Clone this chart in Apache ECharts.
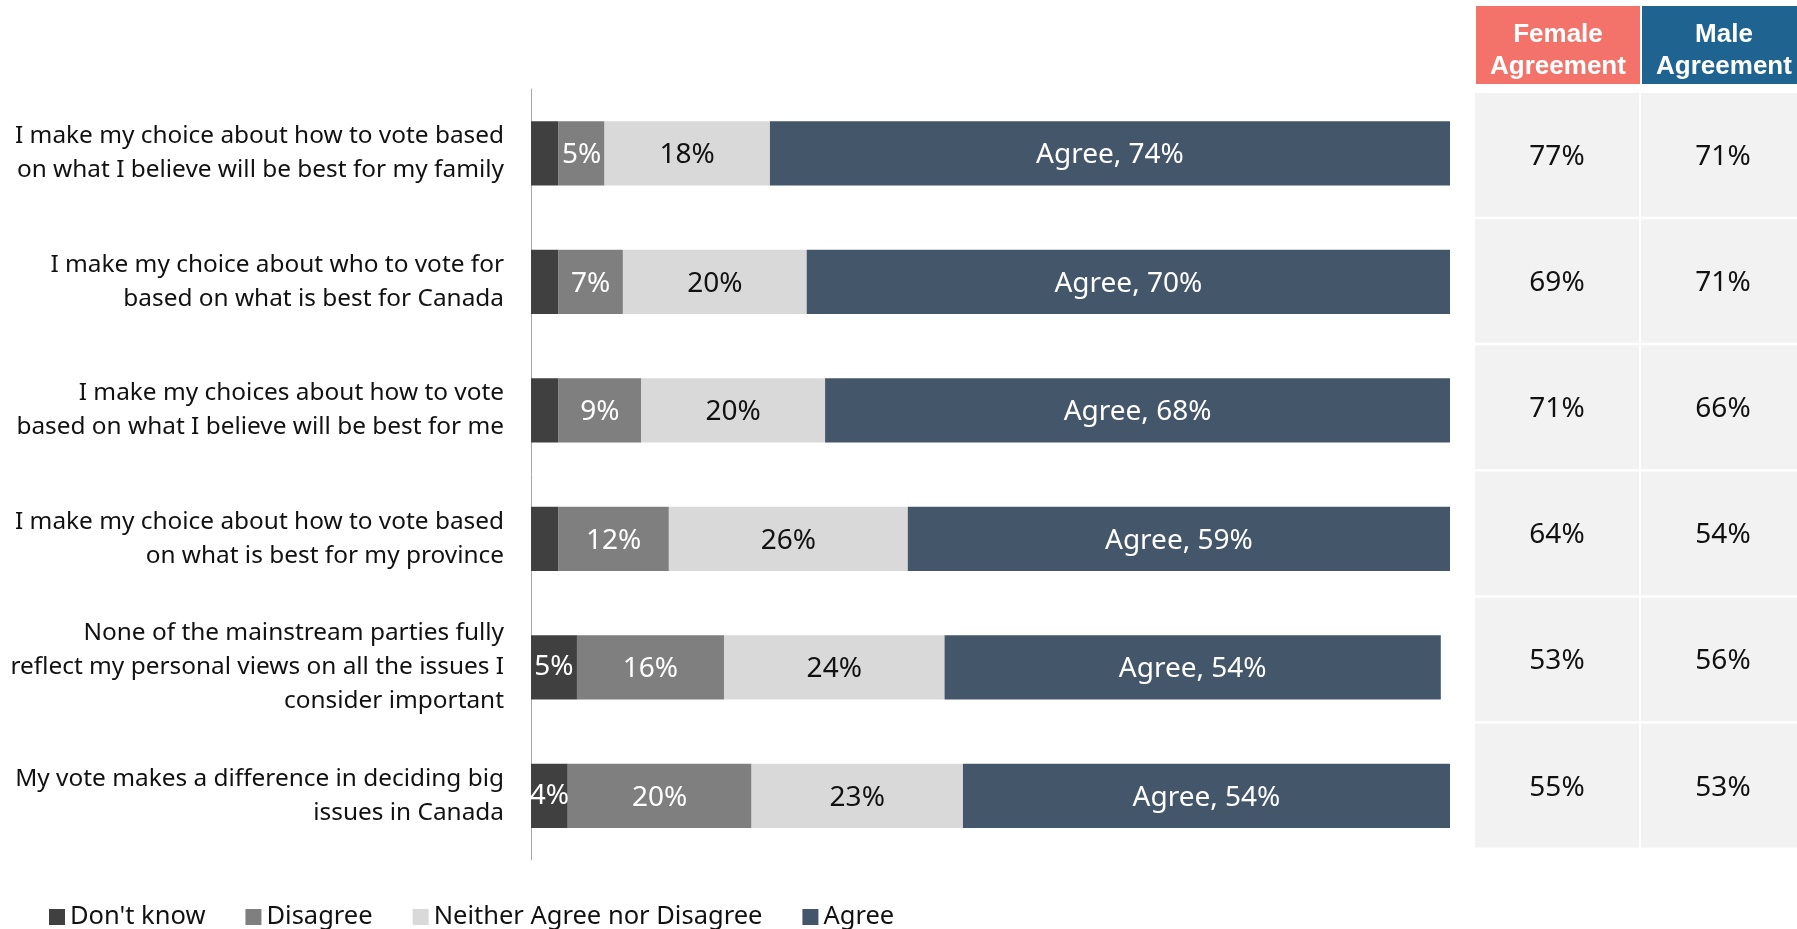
<!DOCTYPE html>
<html>
<head>
<meta charset="utf-8">
<title>Voting motivations</title>
<script src="https://cdn.jsdelivr.net/npm/echarts@6/dist/echarts.min.js"></script>
<style>
  html, body { margin: 0; padding: 0; background: #ffffff; }
  #chart { width: 1797px; height: 929px; }
</style>
</head>
<body>
<div id="chart"></div>
<script>
// Statements shown on the left axis (top to bottom)
const categories = [
  'I make my choice about how to vote based\non what I believe will be best for my family',
  'I make my choice about who to vote for\nbased on what is best for Canada',
  'I make my choices about how to vote\nbased on what I believe will be best for me',
  'I make my choice about how to vote based\non what is best for my province',
  'None of the mainstream parties fully\nreflect my personal views on all the issues I\nconsider important',
  'My vote makes a difference in deciding big\nissues in Canada'
];

// Response shares (%)
const dontKnow = [3, 3, 3, 3, 5, 4];
const disagree = [5, 7, 9, 12, 16, 20];
const neither  = [18, 20, 20, 26, 24, 23];
const agree    = [74, 70, 68, 59, 54, 54];

// Agreement by gender (%)
const tableColumns = ['Female Agreement', 'Male Agreement'];
const femaleAgreement = [77, 69, 71, 64, 53, 55];
const maleAgreement   = [71, 71, 66, 54, 56, 53];

const seriesNames = ["Don't know", 'Disagree', 'Neither Agree nor Disagree', 'Agree'];
const seriesColors = ['#404040', '#7f7f7f', '#d9d9d9', '#44576a'];
const headerColors = ['#f3736a', '#1f6391'];

const FONT = '"Noto Sans", sans-serif';

const chart = echarts.init(document.getElementById('chart'), null, { renderer: 'canvas' });

function barLabel(color, fmt) {
  return {
    show: true,
    position: 'inside',
    offset: [0, 2],
    color: color,
    fontFamily: FONT,
    fontSize: 28,
    formatter: fmt
  };
}

const tableData = [];
femaleAgreement.forEach((v, i) => tableData.push([0, i, v]));
maleAgreement.forEach((v, i) => tableData.push([1, i, v]));

const option = {
  backgroundColor: '#ffffff',
  animation: false,
  textStyle: { fontFamily: FONT },
  legend: {
    data: seriesNames,
    left: 44,
    top: 899,
    icon: 'rect',
    itemWidth: 16,
    itemHeight: 16,
    itemGap: 40,
    textStyle: { fontFamily: FONT, fontSize: 25.5, color: '#111' }
  },
  grid: [
    { left: 531, top: 89, width: 919, height: 771, outerBoundsMode: 'none' },
    { left: 1475, top: 93, width: 332, height: 757, outerBoundsMode: 'none' }
  ],
  xAxis: [
    { gridIndex: 0, type: 'value', min: 0, max: 100, show: false },
    {
      gridIndex: 1,
      type: 'category',
      position: 'top',
      data: tableColumns.map((name, i) => ({
        value: name,
        textStyle: { backgroundColor: headerColors[i] }
      })),
      axisLine: { show: false },
      axisTick: { show: false },
      axisLabel: {
        interval: 0,
        margin: 9,
        color: '#ffffff',
        fontFamily: '"Liberation Sans", Arial, sans-serif',
        fontWeight: 'bold',
        fontSize: 26,
        lineHeight: 32,
        width: 164,
        align: 'center',
        padding: [13, 0, 1, 0],
        formatter: v => v.replace(' ', '\n')
      }
    }
  ],
  yAxis: [
    {
      gridIndex: 0,
      type: 'category',
      inverse: true,
      data: categories,
      axisLine: { show: true, lineStyle: { color: '#a6a6a6', width: 1 } },
      axisTick: { show: false },
      axisLabel: {
        margin: 27,
        color: '#111',
        fontFamily: FONT,
        fontSize: 24.4,
        lineHeight: 34,
        align: 'right',
        padding: [3, 0, 0, 0]
      }
    },
    {
      gridIndex: 1,
      type: 'category',
      inverse: true,
      data: categories,
      show: false
    }
  ],
  series: [
    {
      name: seriesNames[0], type: 'bar', stack: 'total', barWidth: '50%',
      itemStyle: { color: seriesColors[0] },
      label: barLabel('#ffffff', p => (p.value >= 4 ? p.value + '%' : '')),
      labelLayout: { hideOverlap: false },
      data: dontKnow
    },
    {
      name: seriesNames[1], type: 'bar', stack: 'total', barWidth: '50%',
      itemStyle: { color: seriesColors[1] },
      label: barLabel('#ffffff', p => p.value + '%'),
      data: disagree
    },
    {
      name: seriesNames[2], type: 'bar', stack: 'total', barWidth: '50%',
      itemStyle: { color: seriesColors[2] },
      label: barLabel('#111111', p => p.value + '%'),
      data: neither
    },
    {
      name: seriesNames[3], type: 'bar', stack: 'total', barWidth: '50%',
      itemStyle: { color: seriesColors[3] },
      label: barLabel('#ffffff', p => 'Agree, ' + p.value + '%'),
      data: agree
    },
    {
      // Gender agreement table cells
      type: 'custom',
      xAxisIndex: 1,
      yAxisIndex: 1,
      data: tableData,
      silent: true,
      renderItem: function (params, api) {
        const c = api.coord([api.value(0), api.value(1)]);
        const sz = api.size([1, 1]);
        const x = c[0] - sz[0] / 2;
        const y = c[1] - sz[1] / 2;
        const w = sz[0] - 2;
        const h = sz[1] - 2.5;
        return {
          type: 'group',
          children: [
            { type: 'rect', shape: { x: x, y: y, width: w, height: h }, style: { fill: '#f2f2f2' } },
            {
              type: 'text',
              style: {
                x: x + w / 2, y: y + h / 2 + 2,
                text: api.value(2) + '%',
                fill: '#111',
                font: '28px "Noto Sans", sans-serif',
                align: 'center',
                verticalAlign: 'middle'
              }
            }
          ]
        };
      }
    }
  ]
};

chart.setOption(option);
</script>
</body>
</html>
